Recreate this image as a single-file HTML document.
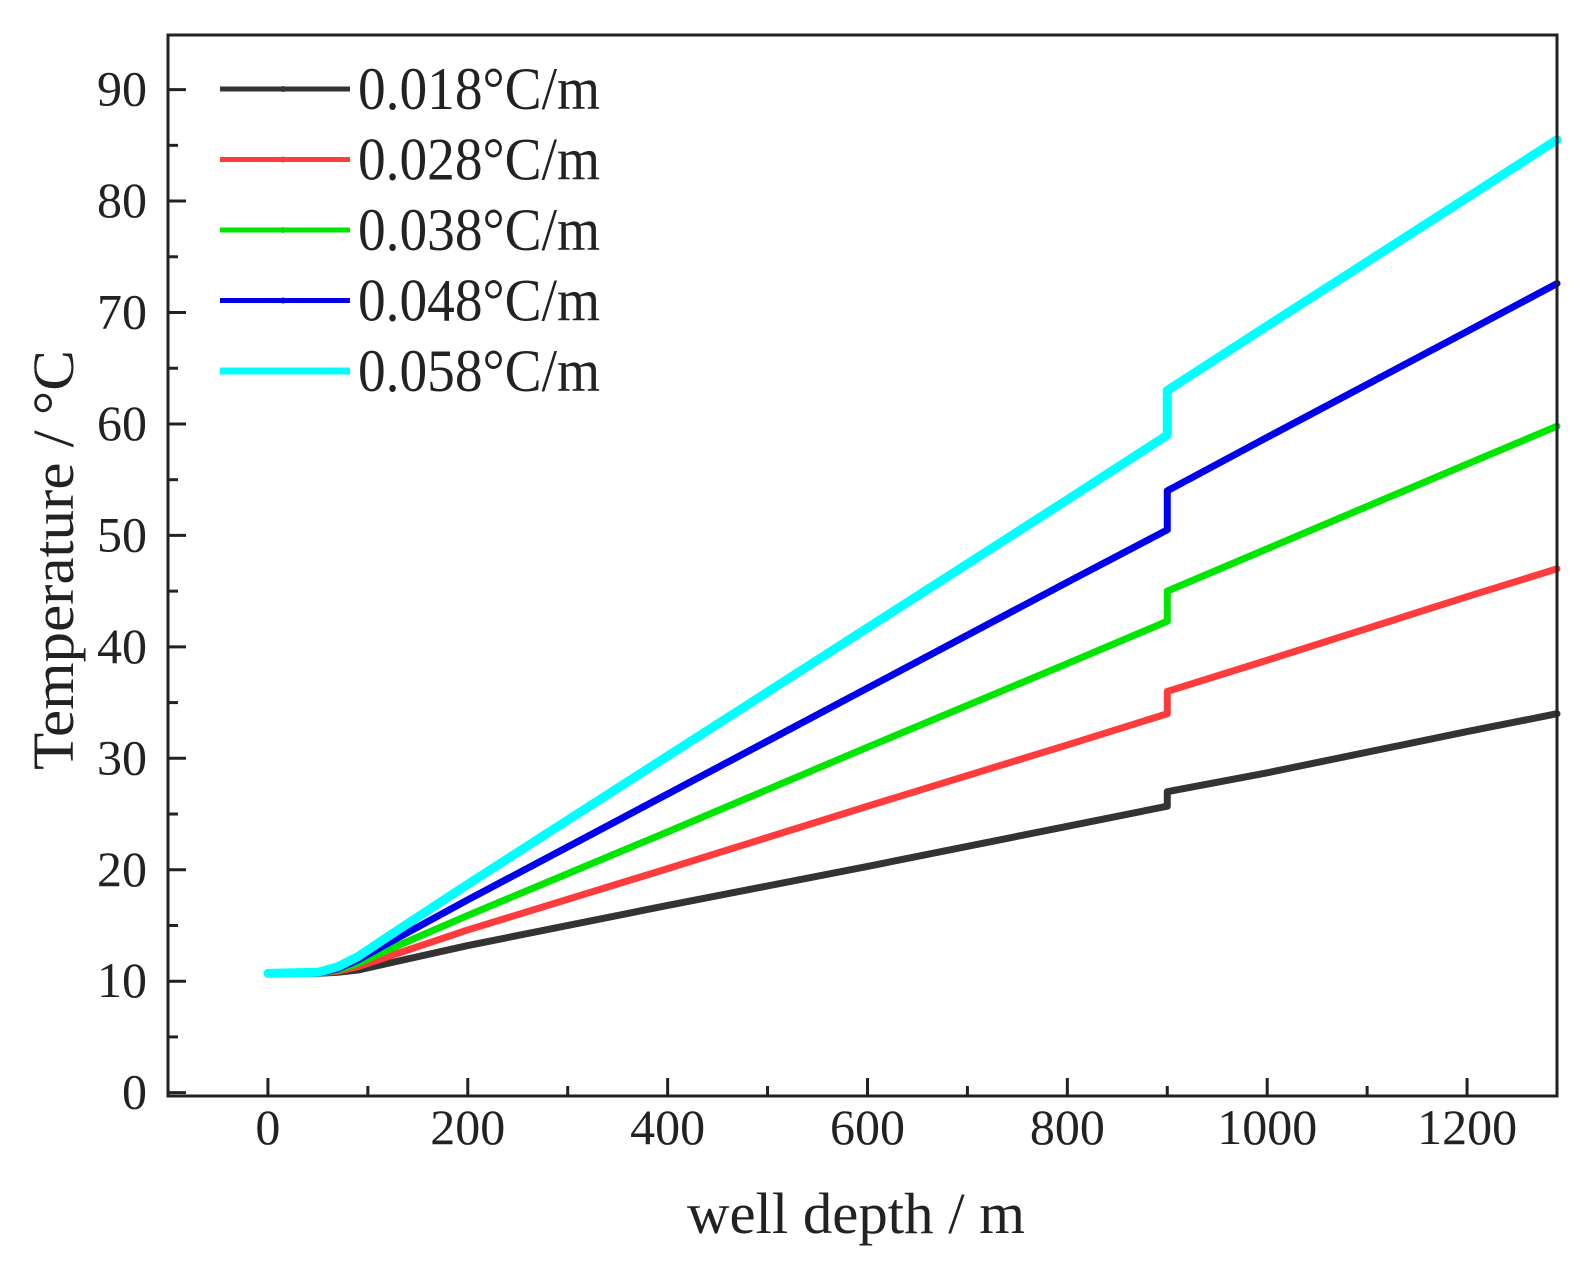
<!DOCTYPE html>
<html><head><meta charset="utf-8"><style>
body{margin:0;background:#fff;}
svg{display:block;font-family:"Liberation Serif",serif;}
</style></head><body>
<svg id="chart" width="1584" height="1286"></svg>
<script>
const depths=[0,50,70,90,120,200,400,600,800,900,900,1000,1200,1290];
const s018=[10.7,10.7,10.8,11.0,11.6,13.2,16.8,20.3,23.9,25.7,27.0,28.7,32.4,34.0];
const s028=[10.7,10.7,10.9,11.3,12.2,14.6,20.1,25.7,31.2,34.0,36.0,38.8,44.5,47.0];
const s038=[10.7,10.7,11.0,11.6,12.8,15.9,23.4,31.0,38.5,42.3,45.0,48.8,56.4,59.8];
const s048=[10.7,10.7,11.1,11.9,13.4,17.3,26.8,36.3,45.8,50.5,54.0,58.8,68.3,72.6];
const s058=[10.7,10.8,11.3,12.2,14.0,18.7,30.2,41.7,53.2,59.0,63.0,68.8,80.3,85.5];
const seriesLabels=["0.018°C/m","0.028°C/m","0.038°C/m","0.048°C/m","0.058°C/m"];
const xTicks=[0,200,400,600,800,1000,1200];
const yTicks=[0,10,20,30,40,50,60,70,80,90];

const NS="http://www.w3.org/2000/svg";
const svg=document.getElementById('chart');
const L=168,R=1557,T=35,B=1096;
const xMin=-100,xMax=1290,yMin=-0.3,yMax=94.9;
const X=v=>L+(v-xMin)/(xMax-xMin)*(R-L);
const Y=v=>B-(v-yMin)/(yMax-yMin)*(B-T);
function el(t,a,p){const e=document.createElementNS(NS,t);for(const k in a)e.setAttribute(k,a[k]);(p||svg).appendChild(e);return e;}

const colors=["#333333","#ff3b3b","#00e600","#0000ee","#00ffff"];
const widths=[7,7,7,7,9];
const all=[s018,s028,s038,s048,s058];
all.forEach((s,i)=>{
  const p=el('polyline',{points:depths.map((d,j)=>X(d)+','+Y(s[j])).join(' '),fill:'none',stroke:colors[i],'stroke-width':widths[i],'stroke-linejoin':'round','stroke-linecap':'round'});
  
  
});

const frame=el('rect',{x:L,y:T,width:R-L,height:B-T,fill:'none',stroke:'#222','stroke-width':3});



for(let v=0;v<=1200;v+=100){
  const maj=v%200===0;
  el('line',{x1:X(v),x2:X(v),y1:B,y2:B-(maj?18:10),stroke:'#222','stroke-width':3});
}
xTicks.forEach(v=>{
  const t=el('text',{x:X(v),y:1144,'text-anchor':'middle','font-size':50,fill:'#222'});
  t.textContent=v;
  
  
});
for(let v=0;v<=90;v+=5){
  const maj=v%10===0;
  el('line',{x1:L,x2:L+(maj?18:10),y1:Y(v),y2:Y(v),stroke:'#222','stroke-width':3});
}
yTicks.forEach(v=>{
  const t=el('text',{x:147,y:Y(v)+16,'text-anchor':'end','font-size':50,fill:'#222'});
  t.textContent=v;
  
  
});

const xt=el('text',{x:856,y:1233,'text-anchor':'middle','font-size':58,fill:'#222',textLength:338,lengthAdjust:'spacingAndGlyphs'});
xt.textContent='well depth / m';


const yt=el('text',{x:0,y:0,'text-anchor':'middle','font-size':58,fill:'#222',textLength:420,lengthAdjust:'spacingAndGlyphs',transform:'translate(73,560) rotate(-90)'});
yt.textContent='Temperature / °C';



seriesLabels.forEach((lab,i)=>{
  const yy=89+i*70.5;
  const g=el('g',{});
  
  
  el('line',{x1:220,x2:350,y1:yy,y2:yy,stroke:colors[i],'stroke-width':widths[i]-2},g);
  el('circle',{cx:283,cy:yy,r:3,fill:colors[i]},g);
  const t=el('text',{x:358,y:yy+20,'font-size':60,fill:'#222',textLength:242,lengthAdjust:'spacingAndGlyphs'},g);
  t.textContent=lab;
});
</script>
</body></html>
